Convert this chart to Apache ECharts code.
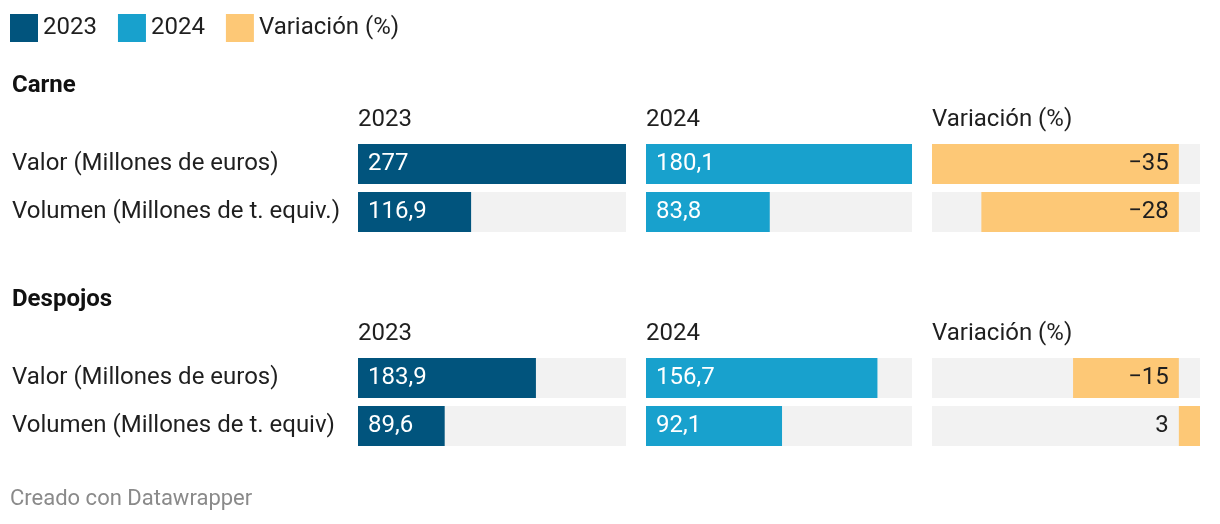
<!DOCTYPE html>
<html>
<head>
<meta charset="utf-8">
<script src="https://cdn.jsdelivr.net/npm/echarts@6/dist/echarts.min.js"></script>
<style>
html,body{margin:0;padding:0;background:#fff;}
#chart{width:1220px;height:524px;}
</style>
</head>
<body>
<div id="chart"></div>
<script>
// ---- data ----
const legendNames = ['2023', '2024', 'Variación (%)'];
const sectionTitles = ['Carne', 'Despojos'];
const carneRows = ['Valor (Millones de euros)', 'Volumen (Millones de t. equiv.)'];
const despojosRows = ['Valor (Millones de euros)', 'Volumen (Millones de t. equiv)'];
const carne2023 = [277, 116.9];
const carne2024 = [180.1, 83.8];
const carneVar = [-35, -28];
const despojos2023 = [183.9, 89.6];
const despojos2024 = [156.7, 92.1];
const despojosVar = [-15, 3];
const footerText = 'Creado con Datawrapper';

const C23 = '#01547d', C24 = '#18a1cd', CVAR = '#fdc876', BG = '#f2f2f2', TXT = '#1f1f1f';
const FONT = 'Roboto';
const FS = 24;

const max23 = Math.max(...carne2023, ...despojos2023);
const max24 = Math.max(...carne2024, ...despojos2024);
const allVar = [...carneVar, ...despojosVar];
const varMin = Math.min(...allVar), varMax = Math.max(...allVar);

const cols = [{left: 358, width: 268}, {left: 646, width: 266}, {left: 932, width: 268}];
const tops = [140, 354];

const fmt = v => {
  const s = String(Math.abs(v)).replace('.', ',');
  return v < 0 ? '\u2212' + s : s;
};

const grids = [], xAxes = [], yAxes = [], series = [];
const sections = [
  {rows: carneRows, vals: [carne2023, carne2024, carneVar]},
  {rows: despojosRows, vals: [despojos2023, despojos2024, despojosVar]}
];
sections.forEach((sec, si) => {
  sec.vals.forEach((vals, ci) => {
    const idx = grids.length;
    grids.push({left: cols[ci].left, width: cols[ci].width, top: tops[si], height: 96, containLabel: false});
    const isVar = ci === 2;
    xAxes.push({
      type: 'value', gridIndex: idx,
      min: isVar ? varMin : 0,
      max: isVar ? varMax : (ci === 0 ? max23 : max24),
      show: false
    });
    yAxes.push({
      type: 'category', gridIndex: idx, inverse: true, data: sec.rows,
      axisLine: {show: false}, axisTick: {show: false}, splitLine: {show: false},
      axisLabel: ci === 0 ? {
        show: true, align: 'left', margin: 346, fontFamily: FONT, fontSize: FS, color: TXT
      } : {show: false}
    });
    const color = isVar ? CVAR : (ci === 0 ? C23 : C24);
    series.push({
      type: 'bar', name: legendNames[ci], xAxisIndex: idx, yAxisIndex: idx,
      barWidth: 40, silent: true, animation: false,
      showBackground: true, backgroundStyle: {color: BG},
      itemStyle: {color: color},
      data: vals.map(v => {
        const item = {value: v};
        if (isVar) {
          item.label = {position: v < 0 ? 'insideRight' : 'left', distance: 10};
        }
        return item;
      }),
      label: {
        show: true,
        position: isVar ? 'insideRight' : 'insideLeft',
        distance: 10,
        fontFamily: FONT, fontSize: FS,
        color: isVar ? TXT : '#ffffff',
        formatter: p => fmt(p.value)
      }
    });
  });
});

const titles = [];
sectionTitles.forEach((t, si) => {
  titles.push({text: t, left: 12, top: tops[si] - 66, padding: 0,
    textStyle: {fontFamily: FONT, fontSize: FS, fontWeight: 'bold', color: '#111'}});
  legendNames.forEach((n, ci) => {
    titles.push({text: n, left: cols[ci].left, top: tops[si] - 32, padding: 0,
      textStyle: {fontFamily: FONT, fontSize: FS, fontWeight: 'normal', color: TXT}});
  });
});
titles.push({text: footerText, left: 10, top: 488, padding: 0,
  textStyle: {fontFamily: FONT, fontSize: 22, fontWeight: 'normal', color: '#8a8a8a'}});

const chart = echarts.init(document.getElementById('chart'), null, {renderer: 'canvas'});
chart.setOption({
  animation: false,
  backgroundColor: '#ffffff',
  title: titles,
  legend: {
    data: legendNames, left: 10, top: 14, padding: 0, icon: 'rect', itemWidth: 28, itemHeight: 28, itemGap: 21,
    selectedMode: false,
    textStyle: {fontFamily: FONT, fontSize: FS, color: TXT}
  },
  grid: grids, xAxis: xAxes, yAxis: yAxes, series: series
});
</script>
</body>
</html>
